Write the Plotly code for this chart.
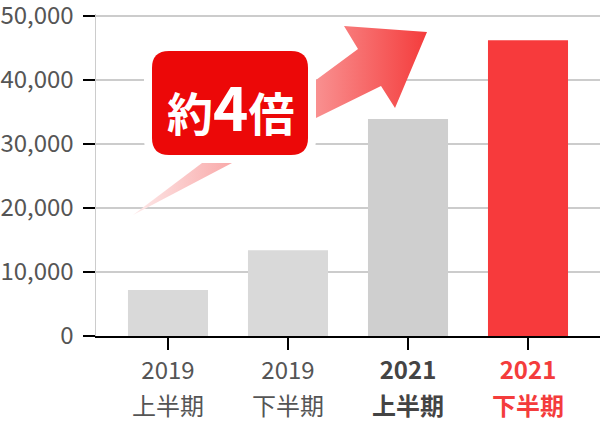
import plotly.graph_objects as go

# chart data
years = ["2019", "2019", "2021", "2021"]
halves = ["上半期", "下半期", "上半期", "下半期"]
values = [7200, 13400, 33900, 46200]
bar_colors = ["#d9d9d9", "#d9d9d9", "#cfcfcf", "#f73a3c"]
label_colors = ["#555555", "#555555", "#444444", "#f43c3c"]
label_bold = [False, False, True, True]
y_ticks = [0, 10000, 20000, 30000, 40000, 50000]
callout_text = "約<span style='font-size:60px'>4</span>倍"

W, H = 600, 422
FONT = "Noto Sans CJK JP"

# plot area in pixels
X_LEFT, Y_ZERO, Y_TOP = 96, 336, 16
Y_MAX = 50250
top_px = Y_ZERO - (Y_ZERO - Y_TOP) * Y_MAX / 50000


def fmt(text, i):
    if label_bold[i]:
        text = f"<b>{text}</b>"
    return f"<span style='color:{label_colors[i]}'>{text}</span>"


def rounded(x0, y0, x1, y1, r):
    return (f"M{x0 + r},{y0} L{x1 - r},{y0} Q{x1},{y0} {x1},{y0 + r} "
            f"L{x1},{y1 - r} Q{x1},{y1} {x1 - r},{y1} L{x0 + r},{y1} "
            f"Q{x0},{y1} {x0},{y1 - r} L{x0},{y0 + r} Q{x0},{y0} {x0 + r},{y0} Z")


xs = list(range(len(values)))
fig = go.Figure()
fig.add_trace(go.Bar(x=xs, y=values, marker=dict(color=bar_colors, line=dict(width=0)),
                     width=0.667, hoverinfo="skip"))

# decoration: speech-bubble tail and arrow (pixel overlay axes)
fig.add_trace(go.Scatter(x=[202, 232, 133, 202], y=[163, 163, 215, 163],
                         xaxis="x2", yaxis="y2", mode="lines", line=dict(width=0),
                         fill="toself", hoverinfo="skip",
                         fillgradient=dict(type="horizontal",
                                           colorscale=[[0, "#fdeaea"], [1, "#f9a9a9"]])))
fig.add_trace(go.Scatter(x=[316, 316, 358, 344, 427, 395, 381, 316],
                         y=[118, 80, 49, 26, 32, 108, 86, 118],
                         xaxis="x2", yaxis="y2", mode="lines", line=dict(width=0),
                         fill="toself", hoverinfo="skip",
                         fillgradient=dict(type="horizontal",
                                           colorscale=[[0, "#f99090"], [1, "#f43c3c"]])))

annotations = [
    dict(x=230, y=104, xref="x2", yref="y2", text=f"<b>{callout_text}</b>",
         showarrow=False, xanchor="center", yanchor="middle",
         font=dict(family=FONT, size=46, color="white")),
]
for i in xs:
    annotations.append(dict(x=i, y=404, xref="x", yref="y2", text=fmt(halves[i], i),
                            showarrow=False, xanchor="center", yanchor="middle",
                            font=dict(family=FONT, size=24)))

fig.update_layout(
    width=W, height=H,
    margin=dict(l=0, r=0, t=0, b=0),
    paper_bgcolor="white", plot_bgcolor="rgba(0,0,0,0)",
    showlegend=False,
    font=dict(family=FONT, size=24, color="#555555"),
    xaxis=dict(domain=[X_LEFT / W, 1], range=[-0.6, 3.6], tickvals=xs,
               ticktext=[fmt(years[i], i) for i in xs],
               showline=True, linecolor="black", linewidth=2,
               ticks="outside", ticklen=12, tickwidth=2, tickcolor="black",
               showgrid=False, zeroline=False, automargin=False,
               ticklabeloverflow="allow",
               tickfont=dict(size=24, color="#555555")),
    yaxis=dict(domain=[(H - Y_ZERO) / H, (H - top_px) / H], range=[0, Y_MAX],
               tickvals=y_ticks, tickformat=",",
               showline=True, linecolor="#cccccc", linewidth=1.5,
               ticks="outside", ticklen=12, tickwidth=2, tickcolor="black",
               showgrid=True, gridcolor="#cccccc", gridwidth=2,
               zeroline=False, automargin=False, ticklabelstandoff=4,
               ticklabeloverflow="allow",
               tickfont=dict(size=24, color="#555555")),
    xaxis2=dict(domain=[0, 1], range=[0, W], anchor="y2", visible=False),
    yaxis2=dict(domain=[0, 1], range=[H, 0], anchor="x2", visible=False),
    shapes=[
        dict(type="path", xref="x2", yref="y2", layer="above",
             path=rounded(144, 43, 316, 163, 25), fillcolor="white", line=dict(width=0)),
        dict(type="path", xref="x2", yref="y2", layer="above",
             path=rounded(152, 51, 308, 155, 17), fillcolor="#ec0808", line=dict(width=0)),
    ],
    annotations=annotations,
)

# drop the default 8px body margin so the chart fills the window
fig.write_html("out.html", config={"displayModeBar": False, "staticPlot": True},
               post_script="document.body.style.margin='0px';")
